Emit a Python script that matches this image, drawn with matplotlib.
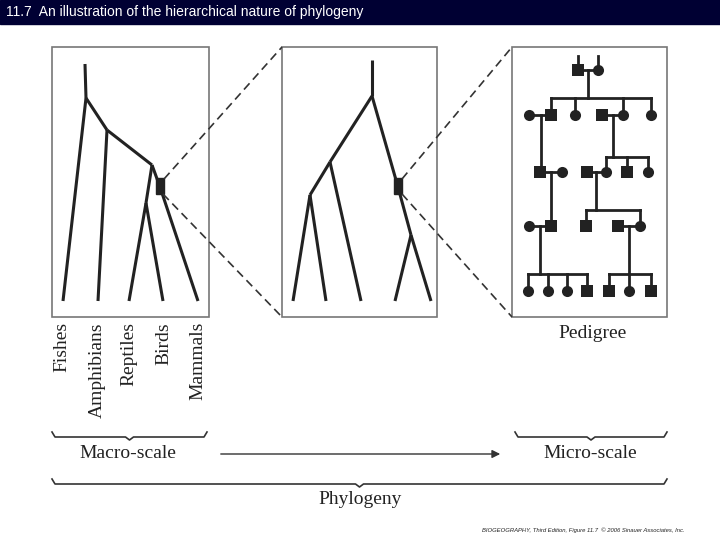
import matplotlib
matplotlib.use("Agg")
import matplotlib.pyplot as plt
from matplotlib.patches import Rectangle

title = "11.7  An illustration of the hierarchical nature of phylogeny"
taxa = ["Fishes", "Amphibians", "Reptiles", "Birds", "Mammals"]
taxa_x = [62, 97, 129, 164, 198]
credit = "BIOGEOGRAPHY, Third Edition, Figure 11.7  © 2006 Sinauer Associates, Inc."

# panels (x0, x1), common y range
panels = [(52, 209), (282, 437), (512, 667)]
py0, py1 = 47, 317

# tree segments
tree1 = [((85, 64), (86, 98)), ((86, 98), (63, 301)), ((86, 98), (107, 130)),
         ((107, 130), (98, 301)), ((107, 130), (152, 165)), ((152, 165), (146, 203)),
         ((146, 203), (129, 301)), ((146, 203), (163, 301)), ((152, 165), (160, 187)),
         ((160, 187), (198, 301))]
tree2 = [((372, 60), (372, 96)), ((372, 96), (330, 162)), ((330, 162), (310, 195)),
         ((310, 195), (293, 301)), ((310, 195), (326, 301)), ((330, 162), (361, 301)),
         ((372, 96), (398, 187)), ((398, 187), (411, 235)), ((411, 235), (395, 301)),
         ((411, 235), (431, 301))]
rects = [(160, 186), (398, 186)]
dashes = [((164, 179), (282, 47)), ((163, 194), (282, 317)),
          ((402, 179), (512, 47)), ((402, 194), (512, 317))]

# pedigree: lines and individuals (x, y, kind)
ped_lines = [((578, 56), (578, 70)), ((598, 56), (598, 70)), ((578, 70), (598, 70)),
             ((588, 70), (588, 98)), ((551, 98), (651, 98)),
             ((551, 98), (551, 115)), ((575, 98), (575, 115)), ((623, 98), (623, 115)), ((651, 98), (651, 115)),
             ((529, 115), (551, 115)), ((602, 115), (623, 115)),
             ((541, 115), (541, 172)), ((613, 115), (613, 157)), ((606, 157), (648, 157)),
             ((606, 157), (606, 172)), ((627, 157), (627, 172)), ((648, 157), (648, 172)),
             ((540, 172), (562, 172)), ((587, 172), (606, 172)),
             ((551, 172), (551, 226)), ((596, 172), (596, 210)), ((586, 210), (640, 210)),
             ((586, 210), (586, 226)), ((640, 210), (640, 226)),
             ((529, 226), (551, 226)), ((618, 226), (640, 226)),
             ((540, 226), (540, 274)), ((528, 274), (587, 274)),
             ((528, 274), (528, 291)), ((548, 274), (548, 291)), ((567, 274), (567, 291)), ((587, 274), (587, 291)),
             ((629, 226), (629, 274)), ((609, 274), (651, 274)),
             ((609, 274), (609, 291)), ((629, 274), (629, 291)), ((651, 274), (651, 291))]
people = [(578, 70, 's'), (598, 70, 'o'),
          (529, 115, 'o'), (551, 115, 's'), (575, 115, 'o'), (602, 115, 's'), (623, 115, 'o'), (651, 115, 'o'),
          (540, 172, 's'), (562, 172, 'o'), (587, 172, 's'), (606, 172, 'o'), (627, 172, 's'), (648, 172, 'o'),
          (529, 226, 'o'), (551, 226, 's'), (586, 226, 's'), (618, 226, 's'), (640, 226, 'o'),
          (528, 291, 'o'), (548, 291, 'o'), (567, 291, 'o'), (587, 291, 's'),
          (609, 291, 's'), (629, 291, 'o'), (651, 291, 's')]

braces = [(52, 207, 437), (515, 667, 437), (52, 667, 484)]
brace_text = [("Macro-scale", 128, 454), ("Micro-scale", 590, 454), ("Phylogeny", 360, 500), ("Pedigree", 593, 333)]

fig = plt.figure(figsize=(7.2, 5.4), dpi=100)
ax = fig.add_axes([0, 0, 1, 1])
ax.set_xlim(0, 720); ax.set_ylim(540, 0); ax.axis('off')

ax.add_patch(Rectangle((0, 0), 720, 24, color='#000033'))
ax.text(6, 12, title, color='white', fontsize=10, family='Liberation Sans', va='center')

for x0, x1 in panels:
    ax.add_patch(Rectangle((x0, py0), x1 - x0, py1 - py0, fill=False, ec='#777777', lw=1.2))
for (a, b) in tree1 + tree2:
    ax.plot([a[0], b[0]], [a[1], b[1]], color='#222222', lw=2.2, solid_capstyle='butt')
for cx, cy in rects:
    ax.add_patch(Rectangle((cx - 4, cy - 8), 8, 16, color='#222222'))
for (a, b) in dashes:
    ax.plot([a[0], b[0]], [a[1], b[1]], color='#333333', lw=1.2, ls=(0, (5, 3)))
for (a, b) in ped_lines:
    ax.plot([a[0], b[0]], [a[1], b[1]], color='#222222', lw=2)
for x, y, k in people:
    ax.plot(x, y, marker=k, color='#222222', ms=8 if k == 'o' else 8.5, mew=0)

for t, x in zip(taxa, taxa_x):
    ax.text(x, 322, t, rotation=90, ha='center', va='top', fontsize=14, family='Liberation Serif', color='#222222')

for x0, x1, y in braces:
    xm = (x0 + x1) / 2
    ax.plot([x0, x0 + 3, xm - 4, xm, xm + 4, x1 - 3, x1], [y - 5, y, y, y + 3, y, y, y - 5], color='#333333', lw=1.2)
for t, x, y in brace_text:
    ax.text(x, y, t, ha='center', va='center', fontsize=14, family='Liberation Serif', color='#222222')
ax.annotate('', xy=(503, 454), xytext=(218, 454),
            arrowprops=dict(arrowstyle='-|>', color='#333333', lw=1, mutation_scale=12))
ax.text(685, 530, credit, ha='right', va='center', fontsize=4.2, family='Liberation Sans', style='italic', color='#222222')

fig.savefig('out.png', dpi=100)
